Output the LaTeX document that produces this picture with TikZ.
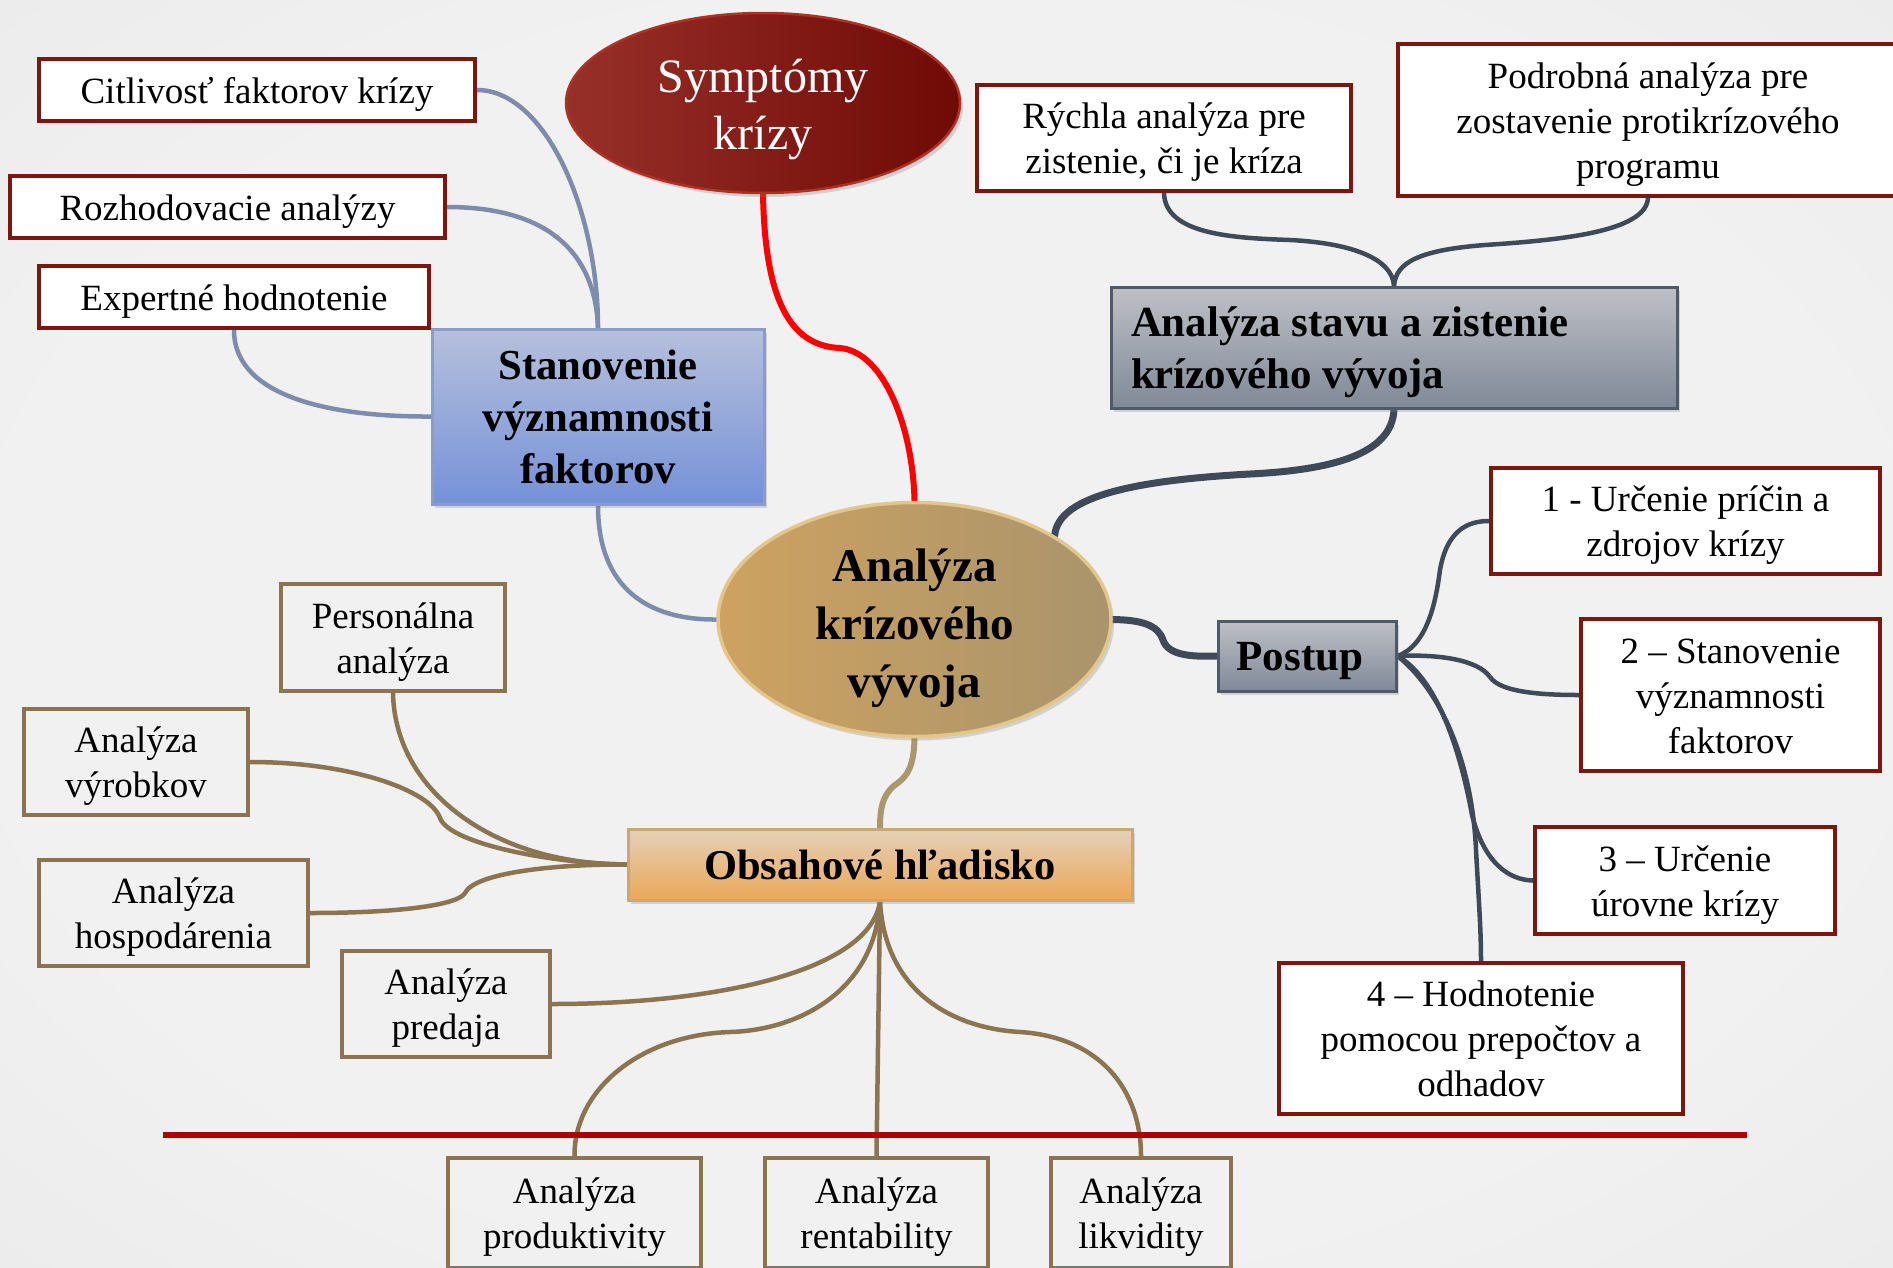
\documentclass[tikz,border=0pt]{standalone}
\usepackage{fontspec}
\setmainfont{Liberation Serif}
\usetikzlibrary{shapes.geometric,shadows}

\definecolor{bgin}{RGB}{241,241,241}
\definecolor{bgmid}{RGB}{229,229,229}
\definecolor{bgout}{RGB}{214,214,214}
\definecolor{leafred}{RGB}{125,22,14}
\definecolor{leafbrown}{RGB}{140,116,80}
\definecolor{linkblue}{RGB}{125,140,172}
\definecolor{linkslate}{RGB}{62,73,89}
\definecolor{linktan}{RGB}{172,150,110}
\definecolor{rulered}{RGB}{178,0,0}

\pgfdeclareradialshading{vignette}{\pgfpoint{0bp}{0bp}}{%
  color(0bp)=(bgin); color(25bp)=(bgin); color(50bp)=(bgmid); color(72bp)=(bgout)}

\pgfdeclarelayer{paper}
\pgfdeclarelayer{links}
\pgfsetlayers{paper,links,main}

\tikzset{
  % fixed line box: ascent on the first line, descent on the last line
  linebox/.style 2 args={execute at begin node={\rule{0pt}{#1}},
    execute at end node={\rule[-#2]{0pt}{#2}}},
  % outer size of a box; the text is set in a column of that width
  boxdims/.style 2 args={minimum width=#1, minimum height=#2, text width=#1-10},
  normaltext/.style={font=\fontsize{37}{45}\selectfont, linebox={35pt}{9pt}},
  redleaf/.style={rectangle, draw=leafred, line width=4pt, fill=white,
    inner sep=2pt, align=flush center, normaltext},
  brownleaf/.style={rectangle, draw=leafbrown, line width=4.5pt,
    inner sep=2pt, align=flush center, normaltext},
  softshadow/.style={drop shadow={shadow xshift=3pt, shadow yshift=-4pt, opacity=0.28}},
  bluehead/.style={rectangle, draw={rgb,255:red,140;green,155;blue,200}, line width=3pt,
    top color={rgb,255:red,182;green,192;blue,220},
    bottom color={rgb,255:red,117;green,145;blue,216},
    inner sep=2pt, align=flush center, softshadow,
    font=\fontsize{42.7}{52}\selectfont\bfseries, linebox={39.5pt}{10.5pt}},
  slatehead/.style={rectangle, draw={rgb,255:red,78;green,90;blue,106}, line width=3pt,
    top color={rgb,255:red,190;green,192;blue,198},
    bottom color={rgb,255:red,128;green,137;blue,152},
    inner sep=2pt, softshadow, linebox={40pt}{10.5pt}},
  orangehead/.style={rectangle, draw={rgb,255:red,202;green,168;blue,118}, line width=3pt,
    top color={rgb,255:red,228;green,208;blue,185},
    bottom color={rgb,255:red,236;green,168;blue,88},
    inner sep=2pt, align=flush center, softshadow,
    font=\fontsize{42.5}{50}\selectfont\bfseries, linebox={40pt}{10.5pt}},
  centre/.style={ellipse, inner sep=0pt, minimum width=393, minimum height=234,
    draw={rgb,255:red,226;green,198;blue,140}, line width=3.5pt,
    left color={rgb,255:red,206;green,162;blue,96},
    right color={rgb,255:red,170;green,148;blue,108},
    softshadow},
  centretext/.style={align=center, inner sep=0pt,
    font=\fontsize{47}{58}\selectfont\bfseries},
  crisis/.style={ellipse, inner sep=0pt, minimum width=394, minimum height=180,
    draw={rgb,255:red,178;green,48;blue,34}, line width=2.5pt,
    left color={rgb,255:red,152;green,48;blue,42},
    right color={rgb,255:red,112;green,10;blue,4},
    softshadow},
  crisistext/.style={align=center, inner sep=0pt, text=white,
    font=\fontsize{48}{57}\selectfont},
  bluelink/.style={draw=linkblue, line width=4.5pt, line cap=round},
  redlink/.style={draw={rgb,255:red,255;green,0;blue,0}, line width=6pt, line cap=round},
  slatelink/.style={draw=linkslate, line width=4.5pt, line cap=round},
  slatemain/.style={draw=linkslate, line width=7pt, line cap=round},
  brownlink/.style={draw=leafbrown, line width=4.5pt, line cap=round},
  tanlink/.style={draw=linktan, line width=6pt, line cap=round},
}

\begin{document}
\begin{tikzpicture}[x=1pt,y=-1pt]
\useasboundingbox (0,0) rectangle (1893,1267);
\begin{pgfonlayer}{paper}
  \shade[shading=vignette] (0,0) rectangle (1893,1267);
\end{pgfonlayer}

% --- left branch: importance of factors
\node[redleaf, boxdims={436}{62}] (citl) at (257,90) {Citlivosť faktorov krízy};
\node[redleaf, boxdims={435}{62}] (rozh) at (227.5,207) {Rozhodovacie analýzy};
\node[redleaf, boxdims={390}{62}] (expe) at (234,297) {Expertné hodnotenie};
\node[bluehead, boxdims={332}{175}] (stan) at (598,416.5) {Stanovenie\\významnosti\\faktorov};

% --- symptoms
\node[crisis] (symp) at (763,103) {};
\node[crisistext] (symptext) at ([yshift=-6pt]symp.center) {Symptómy\\krízy};

% --- upper right branch
\node[redleaf, boxdims={374}{106}] (rych) at (1164,138) {Rýchla analýza pre\\zistenie, či je kríza};
\node[redleaf, boxdims={500}{152}] (podr) at (1648,120) {Podrobná analýza pre\\zostavenie protikrízového\\programu};
\node[slatehead, text width=526, inner xsep=20, minimum height=121, align=flush left,
      font=\fontsize{42.9}{52}\selectfont\bfseries] (stav) at (1394,347.5) {Analýza stavu a zistenie\\krízového vývoja};

% --- centre
\node[centre] (cent) at (914.5,619.5) {};
\node[centretext] (centtext) at ([yshift=-8.5pt]cent.center) {Analýza\\krízového\\vývoja};

% --- procedure
\node[slatehead, minimum width=178, minimum height=70,
      font=\fontsize{43}{52}\selectfont\bfseries] (post) at (1307,656) {Postup\hspace*{14pt}};
\node[redleaf, boxdims={389}{106}] (p1) at (1685.5,521) {1 - Určenie príčin a\\zdrojov krízy};
\node[redleaf, boxdims={299}{152}] (p2) at (1730.5,695) {2 – Stanovenie\\významnosti\\faktorov};
\node[redleaf, boxdims={300}{107}] (p3) at (1685,880.5) {3 – Určenie\\úrovne krízy};
\node[redleaf, boxdims={404}{151}] (p4) at (1481,1038.5) {4 – Hodnotenie\\pomocou prepočtov a\\odhadov};

% --- content view
\node[orangehead, boxdims={504}{71}] (obsa) at (880,864.5) {Obsahové hľadisko};
\node[brownleaf, boxdims={224}{107}] (pers) at (393,637.5) {Personálna\\analýza};
\node[brownleaf, boxdims={224}{106}] (vyro) at (136,762) {Analýza\\výrobkov};
\node[brownleaf, boxdims={269}{106}] (hosp) at (173.5,913) {Analýza\\hospodárenia};
\node[brownleaf, boxdims={208}{106}] (pred) at (446,1004) {Analýza\\predaja};
\node[brownleaf, boxdims={253}{110}] (prod) at (574.5,1213) {Analýza\\produktivity};
\node[brownleaf, boxdims={223}{110}] (rent) at (876.5,1213) {Analýza\\rentability};
\node[brownleaf, boxdims={180}{110}] (likv) at (1141,1213) {Analýza\\likvidity};

\coordinate (rulestart) at (163,1135);
\coordinate (ruleend) at (1747,1135);

\begin{pgfonlayer}{links}
  % blue branch
  \draw[bluelink] (citl.east) .. controls (545,90) and (598,210) .. (stan.north);
  \draw[bluelink] (rozh.east) .. controls (545,207) and (595,250) .. (stan.north);
  \draw[bluelink] (expe.south) .. controls (234,400) and (340,417) .. (stan.west);
  \draw[bluelink] (stan.south) .. controls (598,590) and (650,620) .. (cent.west);

  % symptoms
  \draw[redlink] (symp.south) .. controls (765,300) and (790,346) .. (840,348)
                 .. controls (885,352) and (913,430) .. (cent.north);

  % analysis of state
  \draw[slatelink] (rych.south) .. controls (1165,235) and (1235,238) .. (1290,240)
                   .. controls (1350,243) and (1392,258) .. (stav.north);
  \draw[slatelink] (podr.south) .. controls (1646,232) and (1560,240) .. (1485,245)
                   .. controls (1420,250) and (1396,262) .. (stav.north);
  \draw[slatemain] (stav.south) .. controls (1392,455) and (1330,470) .. (1250,474)
                   .. controls (1140,480) and (1058,495) .. (cent.north east);

  % procedure
  \draw[slatemain] (cent.east) .. controls (1142,620) and (1158,625) .. (1163,640)
                   .. controls (1168,655) and (1190,657) .. (post.west);
  \draw[slatelink] (post.east) .. controls (1428,645) and (1436,600) .. (1440,570)
                   .. controls (1447,530) and (1468,521) .. (p1.west);
  \draw[slatelink] (post.east) .. controls (1440,654) and (1478,660) .. (1490,677)
                   .. controls (1500,692) and (1540,695) .. (p2.west);
  \draw[slatelink] (post.east) .. controls (1440,680) and (1462,760) .. (1472,815)
                   .. controls (1484,862) and (1508,880) .. (p3.west);
  \draw[slatelink] (post.east) .. controls (1440,690) and (1472,760) .. (1476,850)
                   .. controls (1479,905) and (1481,930) .. (p4.north);

  % content view
  \draw[tanlink] (cent.south) .. controls (914,770) and (905,778) .. (895,785)
                 .. controls (882,795) and (880,810) .. (obsa.north);
  \draw[brownlink] (pers.south) .. controls (395,780) and (470,840) .. (560,858)
                   .. controls (590,864) and (610,864) .. (obsa.west);
  \draw[brownlink] (vyro.east) .. controls (350,762) and (430,790) .. (440,818)
                   .. controls (450,845) and (560,864) .. (obsa.west);
  \draw[brownlink] (hosp.east) .. controls (400,913) and (458,905) .. (465,893)
                   .. controls (475,872) and (560,864) .. (obsa.west);
  \draw[brownlink] (obsa.south) .. controls (870,970) and (720,1004) .. (pred.east);
  \draw[brownlink] (obsa.south) .. controls (875,990) and (800,1030) .. (730,1032)
                   .. controls (640,1035) and (574,1090) .. (prod.north);
  \draw[brownlink] (obsa.south) -- (rent.north);
  \draw[brownlink] (obsa.south) .. controls (885,990) and (950,1028) .. (1020,1032)
                   .. controls (1100,1037) and (1141,1090) .. (likv.north);

  % separating rule
  \draw[rulered, line width=6pt] (rulestart) -- (ruleend);
\end{pgfonlayer}
\end{tikzpicture}
\end{document}
